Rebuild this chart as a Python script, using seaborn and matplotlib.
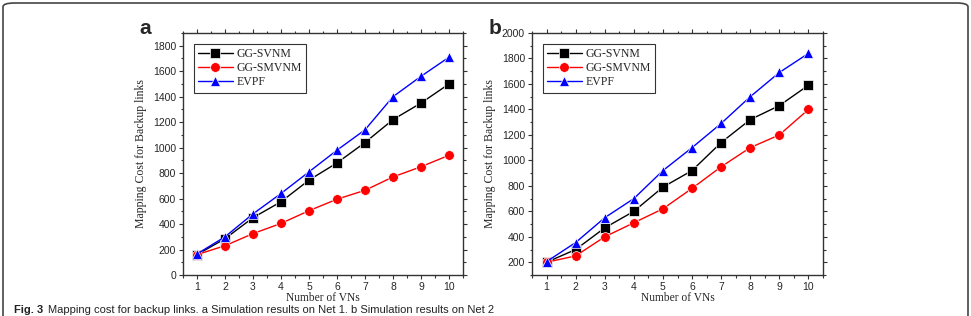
import numpy as np
import pandas as pd
import matplotlib
matplotlib.use("Agg")
import matplotlib.pyplot as plt
import seaborn as sns
from matplotlib.patches import FancyBboxPatch
from matplotlib.ticker import MultipleLocator

# -----------------------------------
# Data
# -----------------------------------
vns = [1, 2, 3, 4, 5, 6, 7, 8, 9, 10]
series_names = ["GG-SVNM", "GG-SMVNM", "EVPF"]

net1_svnm = [160, 285, 450, 575, 745, 880, 1040, 1220, 1350, 1500]
net1_smvnm = [160, 230, 325, 405, 505, 595, 665, 770, 850, 940]
net1_evpf = [165, 300, 480, 640, 810, 980, 1140, 1400, 1560, 1710]

net2_svnm = [200, 300, 470, 600, 790, 920, 1140, 1320, 1430, 1590]
net2_smvnm = [200, 250, 400, 510, 620, 780, 950, 1100, 1200, 1400]
net2_evpf = [205, 355, 550, 700, 920, 1100, 1290, 1500, 1690, 1840]

colors = {"GG-SVNM": "black", "GG-SMVNM": "red", "EVPF": "blue"}
markers = {"GG-SVNM": "s", "GG-SMVNM": "o", "EVPF": "^"}


def to_long(a, b, c):
    frames = []
    for name, vals in zip(series_names, [a, b, c]):
        frames.append(pd.DataFrame({"VNs": vns, "cost": vals, "alg": name}))
    return pd.concat(frames, ignore_index=True)


df1 = to_long(net1_svnm, net1_smvnm, net1_evpf)
df2 = to_long(net2_svnm, net2_smvnm, net2_evpf)

sns.set_style("ticks")
plt.rcParams["font.family"] = ["Liberation Sans", "DejaVu Sans"]

fig = plt.figure(figsize=(9.71, 3.16), dpi=100)
W, H = 971, 316

# axes positions in pixels: left, top, right, bottom
ax1 = fig.add_axes([183 / W, 1 - 275 / H, (463 - 183) / W, (275 - 33) / H])
ax2 = fig.add_axes([532 / W, 1 - 275 / H, (823 - 532) / W, (275 - 33) / H])

serif = ["Liberation Serif", "DejaVu Serif"]

for ax, df, ylim in [(ax1, df1, (0, 1900)), (ax2, df2, (100, 2000))]:
    sns.lineplot(
        data=df, x="VNs", y="cost", hue="alg", style="alg",
        palette=colors, markers=markers, dashes=False,
        markersize=7, linewidth=1.0, markeredgewidth=0.5,
        ax=ax,
    )
    ax.set_xlim(0.5, 10.5)
    ax.set_ylim(*ylim)
    ax.set_xticks(vns)
    ax.yaxis.set_major_locator(MultipleLocator(200))
    ax.yaxis.set_minor_locator(MultipleLocator(100))
    ax.xaxis.set_minor_locator(MultipleLocator(0.5))
    ax.tick_params(which="both", top=True, right=True, labelsize=7.5,
                   width=0.8, color="#333333", pad=2)
    ax.tick_params(which="major", length=3)
    ax.tick_params(which="minor", length=1.8)
    for s in ax.spines.values():
        s.set_linewidth(1.0)
        s.set_color("#333333")
    ax.set_xlabel("Number of VNs", family=serif, fontsize=8.3, labelpad=0)
    ax.set_ylabel("Mapping Cost for Backup links", family=serif, fontsize=8.5, labelpad=4)
    leg = ax.legend(loc="upper left", prop={"family": serif, "size": 8.5},
                    frameon=True, fancybox=False, edgecolor="black",
                    borderaxespad=0.9, handlelength=3.0, labelspacing=0.2,
                    borderpad=0.35, handletextpad=0.3)
    leg.get_frame().set_linewidth(0.8)

fig.text(145 / W, 1 - 28 / H, "a", fontsize=15, fontweight="bold", ha="center", va="center")
fig.text(495 / W, 1 - 28 / H, "b", fontsize=15, fontweight="bold", ha="center", va="center")

# caption along the bottom edge
fig.text(14 / W, 1 - 305 / H, "Fig. 3", fontsize=8, fontweight="bold", va="top", color="#222222")
fig.text(48 / W, 1 - 305 / H,
         "Mapping cost for backup links. a Simulation results on Net 1. b Simulation results on Net 2",
         fontsize=8, va="top", color="#222222")

# rounded frame around the figure
frame = FancyBboxPatch((3 / W, -0.2), 965 / W, 1.2 - 3 / H,
                       boxstyle="round,pad=0,rounding_size=0.012",
                       transform=fig.transFigure, fill=False,
                       edgecolor="#444444", linewidth=1.2, clip_on=False)
fig.patches.append(frame)

fig.savefig("out.png", dpi=100)
